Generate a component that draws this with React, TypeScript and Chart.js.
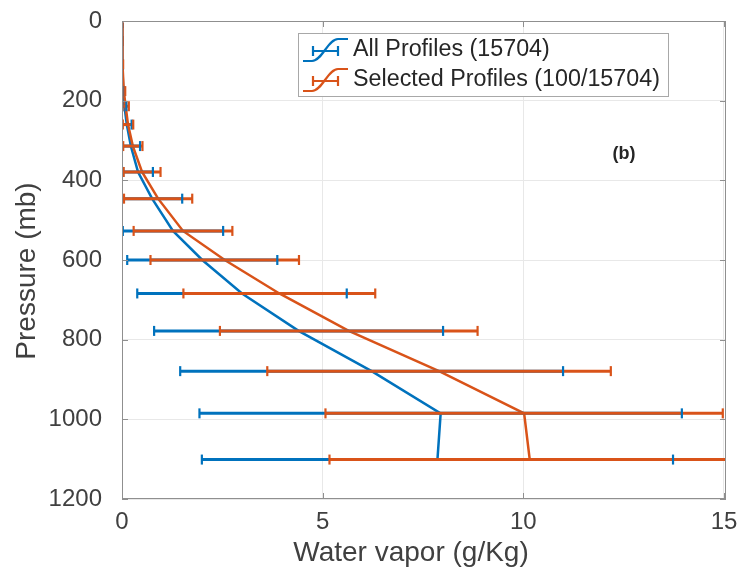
import React, { useEffect, useRef } from 'react';
import { Chart, registerables } from 'chart.js';

Chart.register(...registerables);

// Pressure levels (mb)
const pressureLevels = [5, 50, 109, 176, 214, 260, 314, 379, 446, 527, 600, 684, 778, 879, 985, 1101];
// All profiles (15704): mean and spread of water vapor (g/Kg)
const allMean = [0.003, 0.006, 0.012, 0.03, 0.06, 0.12, 0.22, 0.4, 0.75, 1.27, 2.0, 2.99, 4.4, 6.22, 7.94, 7.86];
const allStd = [0.002, 0.004, 0.01, 0.025, 0.05, 0.12, 0.23, 0.37, 0.75, 1.25, 1.87, 2.61, 3.6, 4.77, 6.01, 5.87];
// Selected profiles (100/15704)
const selMean = [0.004, 0.008, 0.016, 0.045, 0.09, 0.15, 0.27, 0.5, 0.9, 1.52, 2.56, 3.92, 5.65, 7.9, 10.02, 10.16];
const selStd = [0.003, 0.005, 0.012, 0.035, 0.08, 0.13, 0.24, 0.46, 0.85, 1.23, 1.85, 2.39, 3.21, 4.28, 4.95, 4.99];

const xTicks = [0, 5, 10, 15];
const legendLabels = ['All Profiles (15704)', 'Selected Profiles (100/15704)'];
const xTitle = 'Water vapor (g/Kg)';
const yTitle = 'Pressure (mb)';
const panelLabel = '(b)';

const BLUE = '#0072BD';
const ORANGE = '#D95319';
const FONT = '"Liberation Sans", Arial, Helvetica, sans-serif';
const AXIS_COLOR = '#8f8f8f';
const TEXT_COLOR = '#404040';

const series = [
  { mean: allMean, std: allStd, color: BLUE },
  { mean: selMean, std: selStd, color: ORANGE },
];

const zeroPad = (scale: any) => {
  scale.paddingTop = 0;
  scale.paddingBottom = 0;
  scale.paddingLeft = 0;
  scale.paddingRight = 0;
};

const decorPlugin = {
  id: 'decor',
  afterDatasetsDraw(chart: any) {
    const { ctx, chartArea, scales } = chart;
    const xs = scales.x;
    const ys = scales.y;
    ctx.save();
    ctx.beginPath();
    ctx.rect(chartArea.left, chartArea.top, chartArea.right - chartArea.left, chartArea.bottom - chartArea.top);
    ctx.clip();
    series.forEach((s) => {
      ctx.strokeStyle = s.color;
      ctx.lineWidth = 3;
      pressureLevels.forEach((p, i) => {
        const y = ys.getPixelForValue(p);
        const x1 = xs.getPixelForValue(s.mean[i] - s.std[i]);
        const x2 = xs.getPixelForValue(s.mean[i] + s.std[i]);
        ctx.beginPath();
        ctx.moveTo(x1, y);
        ctx.lineTo(x2, y);
        ctx.stroke();
      });
    });
    series.forEach((s) => {
      ctx.strokeStyle = s.color;
      ctx.lineWidth = 2.2;
      pressureLevels.forEach((p, i) => {
        const y = ys.getPixelForValue(p);
        const x1 = xs.getPixelForValue(s.mean[i] - s.std[i]);
        const x2 = xs.getPixelForValue(s.mean[i] + s.std[i]);
        [x1, x2].forEach((x) => {
          ctx.beginPath();
          ctx.moveTo(x, y - 5);
          ctx.lineTo(x, y + 5);
          ctx.stroke();
        });
      });
    });
    ctx.restore();
  },
  afterDraw(chart: any) {
    const { ctx, chartArea, scales } = chart;
    const xs = scales.x;
    const ys = scales.y;
    const { left, right, top, bottom } = chartArea;
    ctx.save();
    ctx.strokeStyle = AXIS_COLOR;
    ctx.lineWidth = 1;
    ctx.strokeRect(left + 0.5, top + 0.5, right - left - 1, bottom - top - 1);
    xTicks.forEach((v) => {
      const x = Math.round(xs.getPixelForValue(v)) + 0.5;
      ctx.beginPath();
      ctx.moveTo(x, bottom);
      ctx.lineTo(x, bottom - 6);
      ctx.moveTo(x, top);
      ctx.lineTo(x, top + 6);
      ctx.stroke();
    });
    for (let v = 0; v <= 1200; v += 200) {
      const y = Math.round(ys.getPixelForValue(v)) + 0.5;
      ctx.beginPath();
      ctx.moveTo(left, y);
      ctx.lineTo(left + 6, y);
      ctx.moveTo(right, y);
      ctx.lineTo(right - 6, y);
      ctx.stroke();
    }
    ctx.fillStyle = TEXT_COLOR;
    ctx.font = `28px ${FONT}`;
    ctx.textAlign = 'center';
    ctx.textBaseline = 'middle';
    ctx.fillText(xTitle, 411, 553);
    ctx.save();
    ctx.translate(27, 271);
    ctx.rotate(-Math.PI / 2);
    ctx.fillText(yTitle, 0, 0);
    ctx.restore();
    ctx.fillStyle = '#262626';
    ctx.font = `bold 18px ${FONT}`;
    ctx.fillText(panelLabel, 624, 154);
    const bx = 298, by = 33, bw = 370, bh = 63;
    ctx.fillStyle = '#ffffff';
    ctx.fillRect(bx, by, bw, bh);
    ctx.strokeStyle = '#a8a8a8';
    ctx.lineWidth = 1;
    ctx.strokeRect(bx + 0.5, by + 0.5, bw, bh);
    legendLabels.forEach((label, i) => {
      const cy = 50 + i * 30;
      const color = series[i].color;
      ctx.strokeStyle = color;
      ctx.lineWidth = 2.2;
      ctx.beginPath();
      ctx.moveTo(303, cy + 11);
      ctx.lineTo(312, cy + 11);
      ctx.bezierCurveTo(322, cy + 11, 328, cy - 11, 338, cy - 11);
      ctx.lineTo(348, cy - 11);
      ctx.stroke();
      ctx.beginPath();
      ctx.moveTo(313, cy + 1);
      ctx.lineTo(338, cy + 1);
      ctx.moveTo(313, cy - 4);
      ctx.lineTo(313, cy + 6);
      ctx.moveTo(338, cy - 4);
      ctx.lineTo(338, cy + 6);
      ctx.stroke();
      ctx.fillStyle = '#262626';
      ctx.font = `23.3px ${FONT}`;
      ctx.textAlign = 'left';
      ctx.textBaseline = 'middle';
      ctx.fillText(label, 353, cy);
    });
    ctx.restore();
  },
};

export default function App() {
  const canvasRef = useRef<HTMLCanvasElement | null>(null);

  useEffect(() => {
    if (!canvasRef.current) return;
    const datasets = series.map((s, i) => ({
      label: legendLabels[i],
      data: pressureLevels.map((p, j) => ({ x: s.mean[j], y: p })),
      showLine: true,
      borderColor: s.color,
      backgroundColor: s.color,
      borderWidth: 2.5,
      pointRadius: 0,
      tension: 0,
      order: i === 0 ? 1 : 0,
    }));
    const chart = new Chart(canvasRef.current, {
      type: 'scatter',
      data: { datasets },
      options: {
        animation: false,
        responsive: true,
        maintainAspectRatio: false,
        layout: { padding: { top: 21, right: 13, left: 0, bottom: 0 } },
        plugins: {
          legend: { display: false },
          tooltip: { enabled: false },
        },
        scales: {
          x: {
            type: 'linear',
            min: 0,
            max: 15.05,
            afterBuildTicks: (scale: any) => {
              scale.ticks = xTicks.map((v) => ({ value: v }));
            },
            afterFit: (scale: any) => {
              scale.height = 83;
              zeroPad(scale);
            },
            grid: { color: '#e8e8e8', drawTicks: false },
            border: { display: false },
            ticks: {
              color: TEXT_COLOR,
              font: { family: FONT, size: 24 },
              padding: 9,
              maxRotation: 0,
              callback: (v: any) => String(v),
            },
          },
          y: {
            type: 'linear',
            reverse: true,
            min: 0,
            max: 1200,
            afterFit: (scale: any) => {
              scale.width = 122;
              zeroPad(scale);
            },
            grid: { color: '#e8e8e8', drawTicks: false },
            border: { display: false },
            ticks: {
              stepSize: 200,
              color: TEXT_COLOR,
              font: { family: FONT, size: 24 },
              padding: 20,
              callback: (v: any) => String(v),
            },
          },
        },
      },
      plugins: [decorPlugin],
    } as any);
    return () => chart.destroy();
  }, []);

  return (
    <div style={{ position: 'absolute', left: 0, top: 0, width: 739, height: 582, background: '#fff' }}>
      <canvas ref={canvasRef} />
    </div>
  );
}
